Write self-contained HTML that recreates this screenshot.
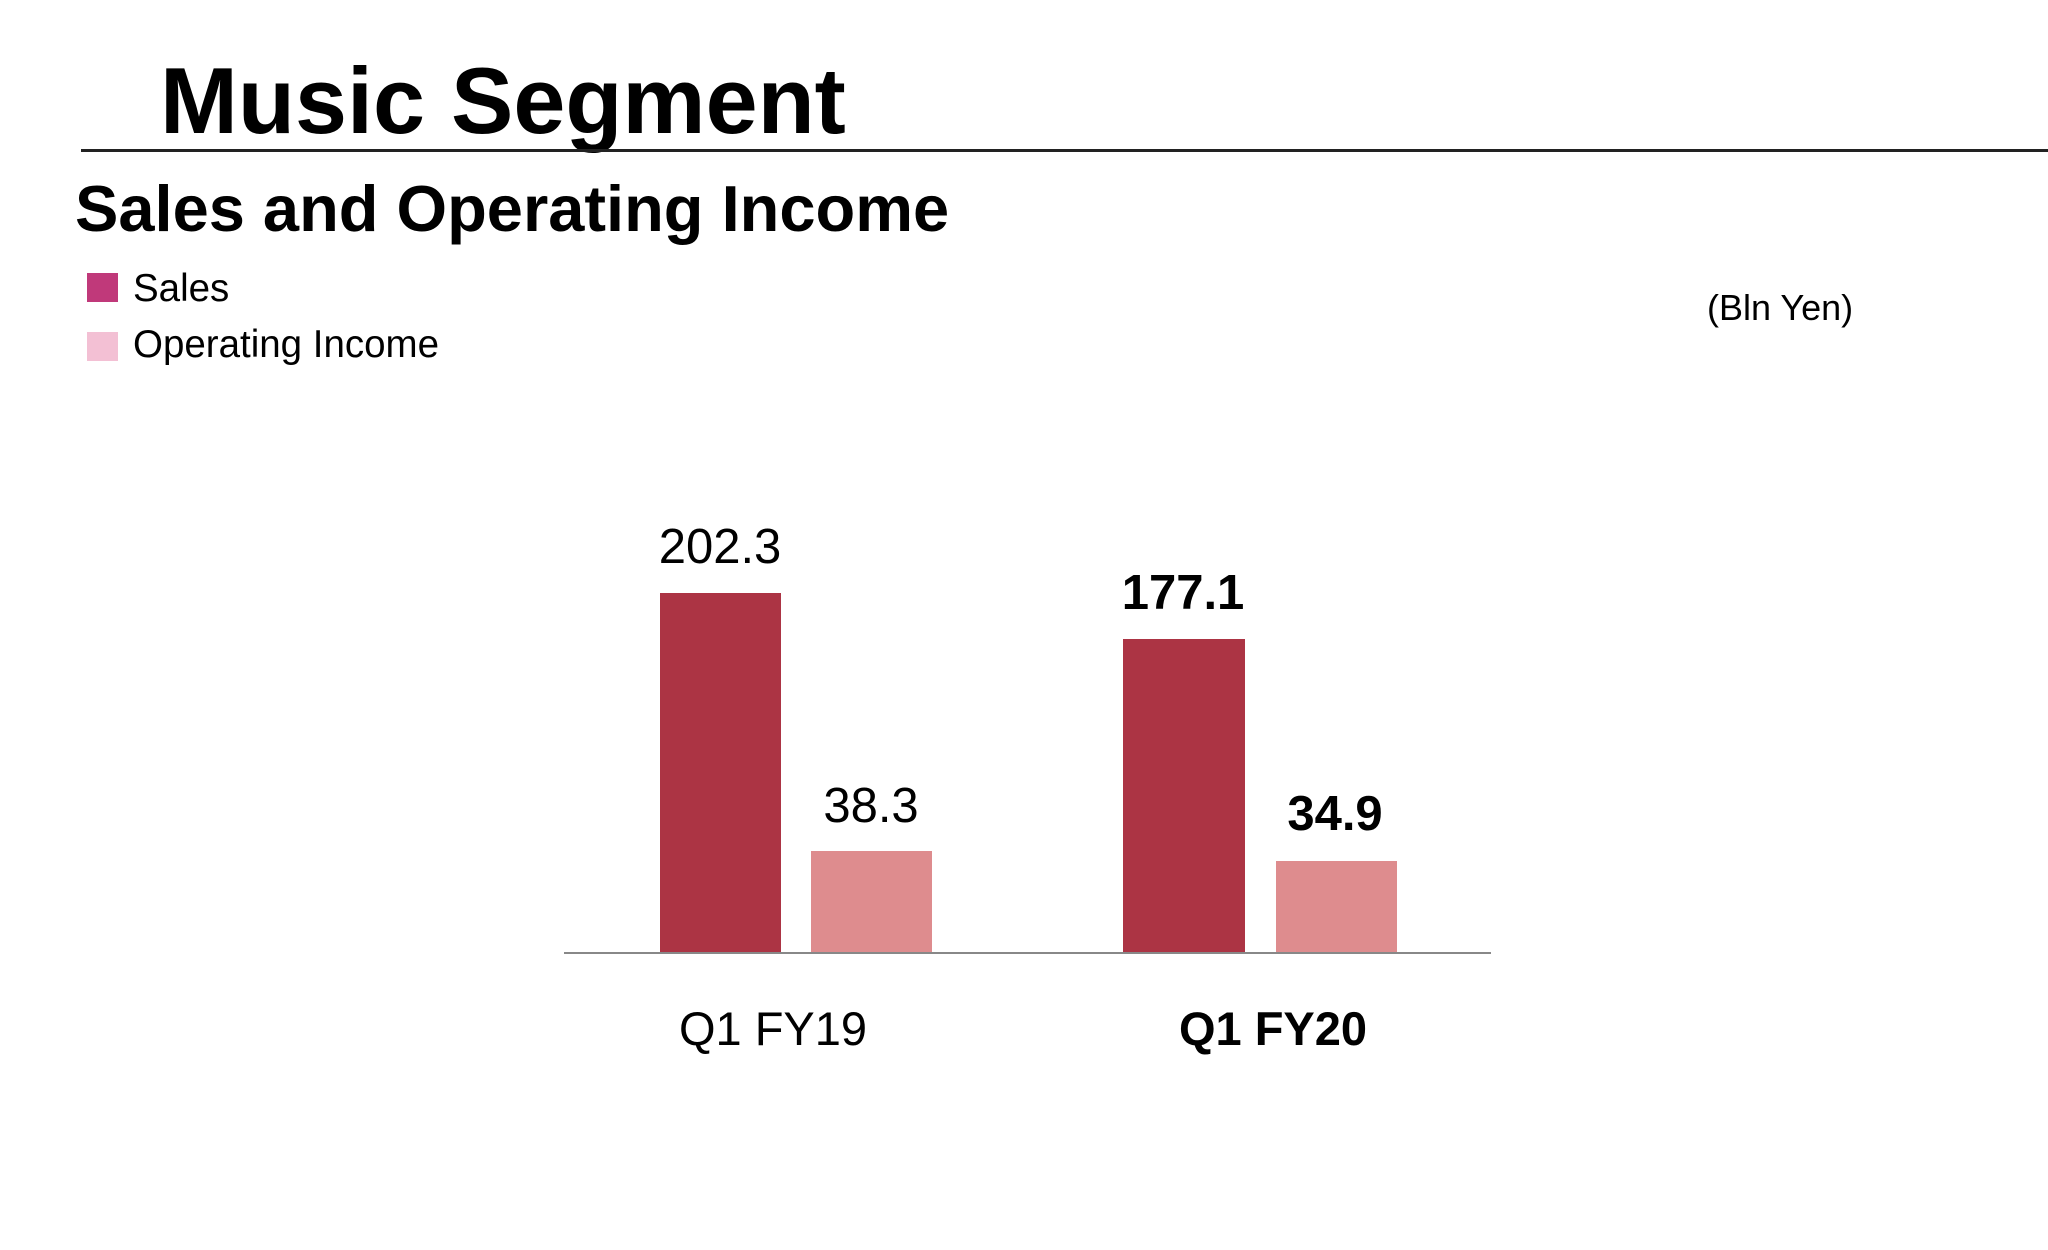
<!DOCTYPE html>
<html><head><meta charset="utf-8"><style>
body{margin:0;background:#fff;width:2048px;height:1245px;overflow:hidden;font-family:"Liberation Sans",Arial,sans-serif;}
</style></head><body>
<svg width="2048" height="1245" xmlns="http://www.w3.org/2000/svg" font-family="Liberation Sans, Arial, sans-serif">
<text x="160" y="133" font-size="93.5" font-weight="bold" fill="#000">Music Segment</text>
<rect x="81" y="149" width="1967" height="3" fill="#222"/>
<text x="75" y="231" font-size="65" font-weight="bold" fill="#000">Sales and Operating Income</text>
<rect x="87" y="273" width="31" height="29" fill="#c0397a"/>
<rect x="87" y="332" width="31" height="29" fill="#f3c0d4"/>
<text x="133" y="301" font-size="38.5" fill="#000">Sales</text>
<text x="133" y="357" font-size="38.5" fill="#000">Operating Income</text>
<text x="1707" y="320" font-size="36" fill="#000">(Bln Yen)</text>
<rect x="660" y="593" width="121" height="360" fill="#ac3444"/>
<rect x="811" y="851" width="121" height="102" fill="#de8c8e"/>
<rect x="1123" y="639" width="122" height="314" fill="#ac3444"/>
<rect x="1276" y="861" width="121" height="92" fill="#de8c8e"/>
<rect x="564" y="952" width="927" height="2" fill="#888"/>
<g font-size="49" text-anchor="middle" fill="#000">
<text x="720" y="563">202.3</text>
<text x="871" y="822">38.3</text>
<text x="1183" y="609" font-weight="bold">177.1</text>
<text x="1335" y="830" font-weight="bold">34.9</text>
<text x="773" y="1045" font-size="47">Q1 FY19</text>
<text x="1273" y="1045" font-size="47" font-weight="bold">Q1 FY20</text>
</g>
</svg>
</body></html>
